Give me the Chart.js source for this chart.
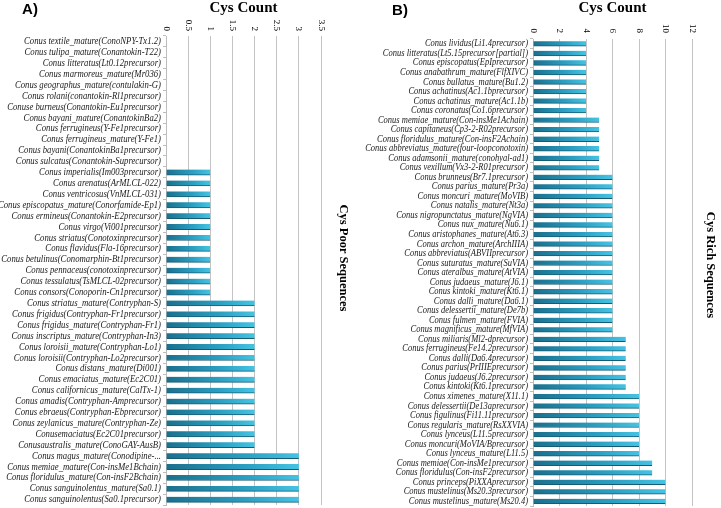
<!DOCTYPE html>
<html>
<head>
<meta charset="utf-8">
<script src="https://cdn.jsdelivr.net/npm/chart.js@4"></script>
<style>
  body { margin: 0; background: #fff; }
  .panel { position: absolute; top: 0; }
</style>
</head>
<body>
<div class="panel" style="left:0"><canvas id="poorChart" width="360" height="508"></canvas></div>
<div class="panel" style="left:360px"><canvas id="richChart" width="361" height="508"></canvas></div>
<script>
const poorLabels = [
  "Conus textile_mature(ConoNPY-Tx1.2)", "Conus tulipa_mature(Conantokin-T22)",
  "Conus litteratus(Lt0.12precursor)", "Conus marmoreus_mature(Mr036)",
  "Conus geographus_mature(contulakin-G)", "Conus rolani(conantokin-Rl1precursor)",
  "Conuse burneus(Conantokin-Eu1precursor)", "Conus bayani_mature(ConantokinBa2)",
  "Conus ferrugineus(Y-Fe1precursor)", "Conus ferrugineus_mature(Y-Fe1)",
  "Conus bayani(ConantokinBa1precursor)", "Conus sulcatus(Conantokin-Suprecursor)",
  "Conus imperialis(Im003precursor)", "Conus arenatus(ArMLCL-022)",
  "Conus ventricosus(VnMLCL-031)", "Conus episcopatus_mature(Conorfamide-Ep1)",
  "Conus ermineus(Conantokin-E2precursor)", "Conus virgo(Vi001precursor)",
  "Conus striatus(Conotoxinprecursor)", "Conus flavidus(Fla-16precursor)",
  "Conus betulinus(Conomarphin-Bt1precursor)", "Conus pennaceus(conotoxinprecursor)",
  "Conus tessulatus(TsMLCL-02precursor)", "Conus consors(Conoporin-Cn1precursor)",
  "Conus striatus_mature(Contryphan-S)", "Conus frigidus(Contryphan-Fr1precursor)",
  "Conus frigidus_mature(Contryphan-Fr1)", "Conus inscriptus_mature(Contryphan-In3)",
  "Conus loroisii_mature(Contryphan-Lo1)", "Conus loroisii(Contryphan-Lo2precursor)",
  "Conus distans_mature(Di001)", "Conus emaciatus_mature(Ec2C01)",
  "Conus californicus_mature(CalTx-1)", "Conus amadis(Contryphan-Amprecursor)",
  "Conus ebraeus(Contryphan-Ebprecursor)", "Conus zeylanicus_mature(Contryphan-Ze)",
  "Conusemaciatus(Ec2C01precursor)", "Conusaustralis_mature(ConoGAY-AusB)",
  "Conus magus_mature(Conodipine-...", "Conus memiae_mature(Con-insMe1Bchain)",
  "Conus floridulus_mature(Con-insF2Bchain)", "Conus sanguinolentus_mature(Sa0.1)",
  "Conus sanguinolentus(Sa0.1precursor)"
];
const poorCounts = [
  0, 0, 0, 0, 0, 0, 0, 0, 0, 0, 0, 0,
  1, 1, 1, 1, 1, 1, 1, 1, 1, 1, 1, 1,
  2, 2, 2, 2, 2, 2, 2, 2, 2, 2, 2, 2, 2, 2,
  3, 3, 3, 3, 3
];
const poorTicks = ["0", "0.5", "1", "1.5", "2", "2.5", "3", "3.5"];

const richLabels = [
  "Conus lividus(Li1.4precursor)", "Conus litteratus(Lt5.15precursor[partial])",
  "Conus episcopatus(EpIprecursor)", "Conus anabathrum_mature(FlfXIVC)",
  "Conus bullatus_mature(Bu1.2)", "Conus achatinus(Ac1.1bprecursor)",
  "Conus achatinus_mature(Ac1.1b)", "Conus coronatus(Co1.6precursor)",
  "Conus memiae_mature(Con-insMe1Achain)", "Conus capitaneus(Cp3-2-R02precursor)",
  "Conus floridulus_mature(Con-insF2Achain)", "Conus abbreviatus_mature(four-loopconotoxin)",
  "Conus adamsonii_mature(conohyal-ad1)", "Conus vexillum(Vx3-2-R01precursor)",
  "Conus brunneus(Br7.1precursor)", "Conus parius_mature(Pr3a)",
  "Conus moncuri_mature(MoVIB)", "Conus natalis_mature(Nt3a)",
  "Conus nigropunctatus_mature(NgVIA)", "Conus nux_mature(Nu6.1)",
  "Conus aristophanes_mature(At6.3)", "Conus archon_mature(ArchIIIA)",
  "Conus abbreviatus(ABVIIprecursor)", "Conus suturatus_mature(SuVIA)",
  "Conus ateralbus_mature(AtVIA)", "Conus judaeus_mature(J6.1)",
  "Conus kintoki_mature(Kt6.1)", "Conus dalli_mature(Da6.1)",
  "Conus delessertii_mature(De7b)", "Conus fulmen_mature(FVIA)",
  "Conus magnificus_mature(MfVIA)", "Conus miliaris(Ml2-dprecursor)",
  "Conus ferrugineus(Fe14.2precursor)", "Conus dalli(Da6.4precursor)",
  "Conus parius(PrIIIEprecursor)", "Conus judaeus(J6.2precursor)",
  "Conus kintoki(Kt6.1precursor)", "Conus ximenes_mature(X11.1)",
  "Conus delessertii(De13aprecursor)", "Conus figulinus(Fi11.11precursor)",
  "Conus regularis_mature(RsXXVIA)", "Conus lynceus(L11.5precursor)",
  "Conus moncuri(MoVIA/Bprecursor)", "Conus lynceus_mature(L11.5)",
  "Conus memiae(Con-insMe1precursor)", "Conus floridulus(Con-insF2precursor)",
  "Conus princeps(PiXXAprecursor)", "Conus mustelinus(Ms20.3precursor)",
  "Conus mustelinus_mature(Ms20.4)"
];
const richCounts = [
  4, 4, 4, 4, 4, 4, 4, 4,
  5, 5, 5, 5, 5, 5,
  6, 6, 6, 6, 6, 6, 6, 6, 6, 6, 6, 6, 6, 6, 6, 6, 6,
  7, 7, 7, 7, 7, 7,
  8, 8, 8, 8, 8, 8, 8,
  9, 9,
  10, 10, 10
];
const richTicks = ["0", "2", "4", "6", "8", "10", "12"];

const SERIF = "'Liberation Serif', 'DejaVu Serif', serif";

// each bar gets its own dark-to-light gradient, like the cylinder bars of the original
const barFill = (ctx) => {
  const chart = ctx.chart;
  const xs = chart.scales.x;
  if (!xs || !chart.chartArea || ctx.raw == null) return "#2a9cbd";
  const x0 = xs.getPixelForValue(0);
  const x1 = Math.max(xs.getPixelForValue(ctx.raw), x0 + 1);
  const g = chart.ctx.createLinearGradient(x0, 0, x1, 0);
  g.addColorStop(0, "#1b6f8c");
  g.addColorStop(0.6, "#2b9fc2");
  g.addColorStop(1, "#45c3e3");
  return g;
};

// panel letter, axis title, rotated tick labels, narrow category labels and side title
const decorations = {
  id: "decorations",
  afterDraw(chart, args, opts) {
    const { ctx, chartArea } = chart;
    const xs = chart.scales.x;
    const ys = chart.scales.y;
    ctx.save();
    ctx.fillStyle = "#000";

    ctx.font = "bold 15px 'Liberation Sans', Arial, sans-serif";
    ctx.textAlign = "center";
    ctx.textBaseline = "middle";
    ctx.fillText(opts.letter, opts.letterX, opts.letterY);

    ctx.font = "bold 15px " + SERIF;
    ctx.fillText("Cys Count", (chartArea.left + chartArea.right) / 2, 8);

    ctx.font = "9px " + SERIF;
    xs.ticks.forEach((t, i) => {
      const px = xs.getPixelForValue(t.value);
      ctx.save();
      ctx.translate(px, opts.tickY);
      ctx.rotate(Math.PI / 2);
      ctx.textAlign = "right";
      ctx.textBaseline = "middle";
      ctx.fillText(opts.ticks[i] ?? String(t.value), 0, 0);
      ctx.restore();
    });

    // the original category labels are a condensed italic serif
    ctx.fillStyle = "#1a1a1a";
    ctx.font = "italic " + opts.labelSize + "px " + SERIF;
    ctx.textAlign = "right";
    ctx.textBaseline = "middle";
    chart.data.labels.forEach((lab, i) => {
      const py = ys.getPixelForValue(i);
      ctx.save();
      ctx.translate(chartArea.left - 5, py);
      ctx.scale(opts.squeeze, 1);
      ctx.fillText(lab, 0, 0);
      ctx.restore();
    });

    ctx.fillStyle = "#000";
    ctx.font = "bold 12.5px " + SERIF;
    ctx.translate(opts.sideX, opts.sideY);
    ctx.rotate(Math.PI / 2);
    ctx.textAlign = "center";
    ctx.textBaseline = "middle";
    ctx.fillText(opts.side, 0, 0);
    ctx.restore();
  }
};

const makeChart = (id, labels, counts, cfg) => new Chart(document.getElementById(id), {
  type: "bar",
  data: {
    labels: labels,
    datasets: [{
      data: counts,
      backgroundColor: barFill,
      borderColor: "#155b73",
      borderWidth: { bottom: 1, top: 0, left: 0, right: 0 },
      borderSkipped: false,
      barThickness: cfg.barThickness,
    }],
  },
  options: {
    indexAxis: "y",
    responsive: false,
    animation: false,
    layout: { padding: { left: 0, right: cfg.padRight, top: cfg.padTop, bottom: cfg.padBottom } },
    plugins: {
      legend: { display: false },
      tooltip: { enabled: false },
      decorations: cfg.deco,
    },
    scales: {
      x: {
        position: "top",
        min: 0,
        max: cfg.max,
        ticks: { display: false, stepSize: cfg.step },
        grid: { color: "#c4c4c4", lineWidth: 1, drawTicks: false },
        border: { display: false },
      },
      y: {
        afterFit: (scale) => { scale.width = cfg.axisWidth; },
        ticks: { display: false, autoSkip: false },
        grid: { drawOnChartArea: false, tickLength: 3, color: "#bdbdbd", offset: true },
        border: { color: "#bdbdbd" },
      },
    },
  },
  plugins: [decorations],
});

makeChart("poorChart", poorLabels, poorCounts, {
  max: 3.5, step: 0.5, axisWidth: 166, padRight: 39, padTop: 36, padBottom: 3,
  barThickness: 5.5,
  deco: { letter: "A)", letterX: 30, letterY: 10, ticks: poorTicks, tickY: 31,
          labelSize: 10.5, squeeze: 0.83,
          side: "Cys Poor Sequences", sideX: 343, sideY: 258 },
});

makeChart("richChart", richLabels, richCounts, {
  max: 12, step: 2, axisWidth: 173, padRight: 29, padTop: 39, padBottom: 2,
  barThickness: 5,
  deco: { letter: "B)", letterX: 40, letterY: 11, ticks: richTicks, tickY: 33,
          labelSize: 10, squeeze: 0.85,
          side: "Cys Rich Sequences", sideX: 350, sideY: 265 },
});
</script>
</body>
</html>
